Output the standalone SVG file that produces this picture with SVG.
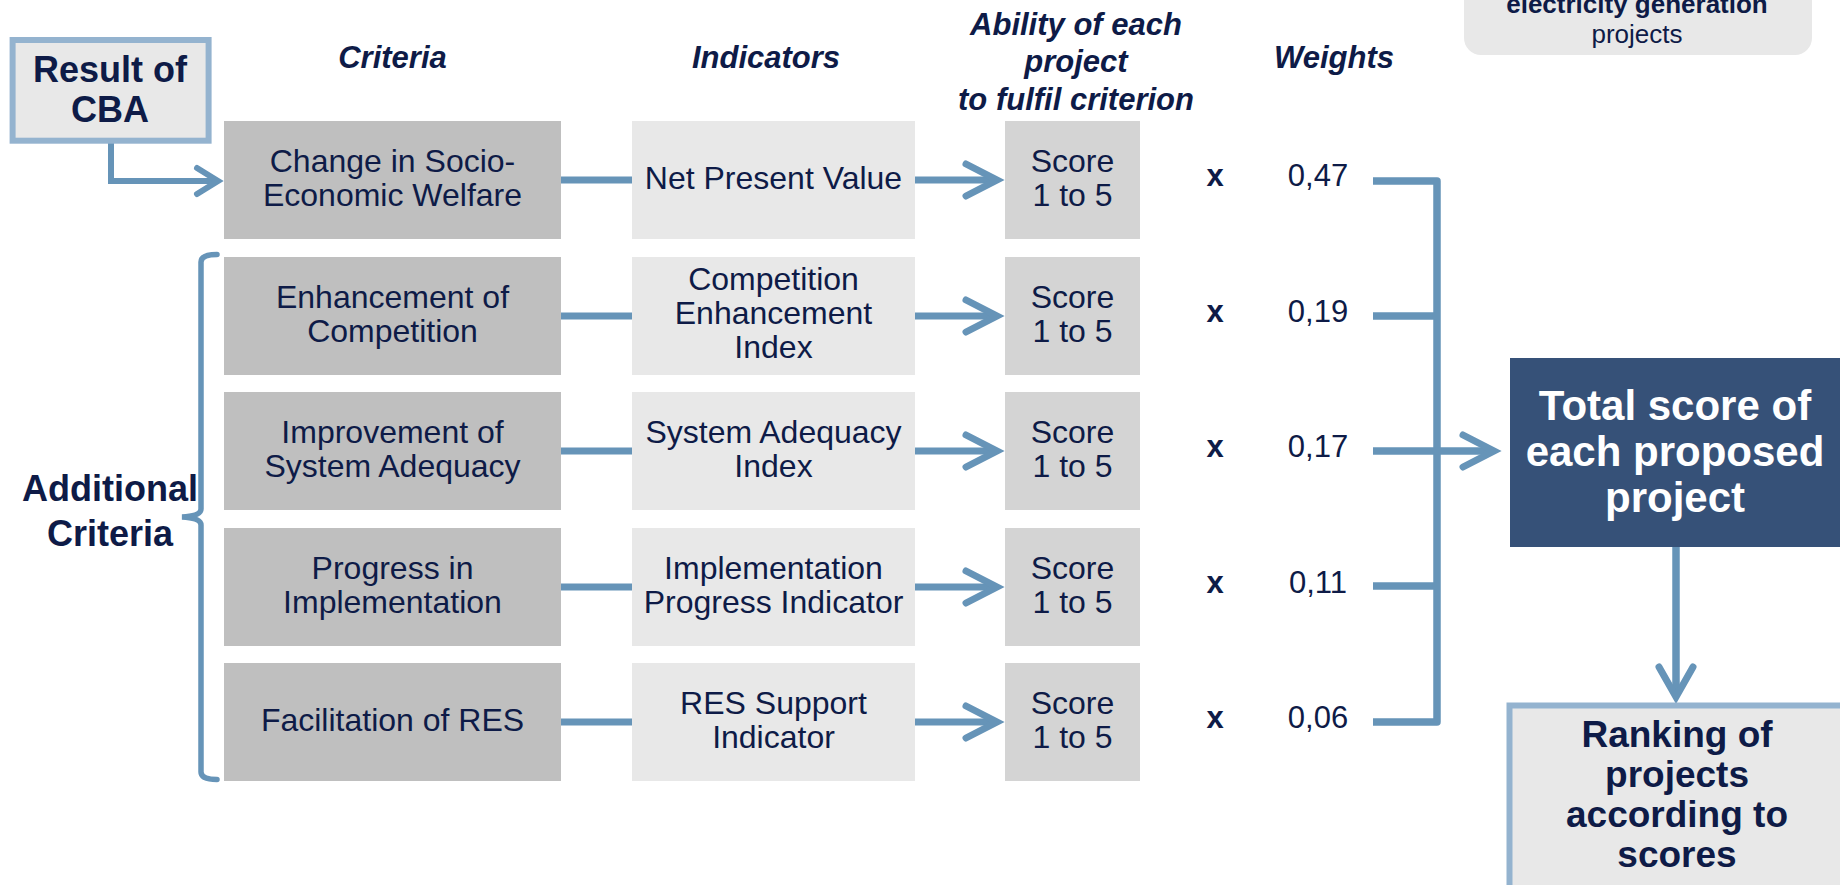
<svg xmlns="http://www.w3.org/2000/svg" width="1840" height="885" viewBox="0 0 1840 885">
  <defs>
    <style>
      text { font-family: "Liberation Sans", Arial, sans-serif; fill: #0e1b47; text-anchor: middle; }
      .hdr { font-size: 31px; font-weight: bold; font-style: italic; }
      .box { font-size: 32px; }
      .big { font-size: 36px; font-weight: bold; }
      .mul { font-size: 31px; font-weight: bold; }
      .wt { font-size: 31px; }
      .crit { fill: #bfbfbf; }
      .ind { fill: #e8e8e8; }
      .score { fill: #d4d4d4; }
      .line { fill: none; stroke: #6694b8; stroke-width: 7; }
      .thin { fill: none; stroke: #6694b8; stroke-width: 6; }
      .head { fill: none; stroke: #6694b8; stroke-width: 7; stroke-linecap: round; stroke-linejoin: miter; }
    </style>
  </defs>

  <rect width="1840" height="885" fill="#ffffff"/>

  <!-- note box at the top right, clipped by the page edge -->
  <g id="note">
    <rect x="1464" y="-40" width="348" height="95" rx="17" fill="#e8e8e8"/>
    <text x="1637" y="12.5" style="font-size:26px;font-weight:bold">electricity generation</text>
    <text x="1637" y="43" style="font-size:26px">projects</text>
  </g>

  <!-- column headers -->
  <g id="headers">
    <text class="hdr" x="392.5" y="68">Criteria</text>
    <text class="hdr" x="766" y="68">Indicators</text>
    <text class="hdr" x="1076" y="35">Ability of each</text>
    <text class="hdr" x="1076" y="72">project</text>
    <text class="hdr" x="1076" y="110">to fulfil criterion</text>
    <text class="hdr" x="1334" y="68">Weights</text>
  </g>

  <!-- connectors -->
  <g id="connectors">
    <!-- CBA result into first criterion -->
    <path class="thin" d="M111,143 V181 H216"/>
    <path class="head" style="stroke-width:6" d="M197,168 L218,181 L197,194"/>

    <!-- criterion to indicator -->
    <path class="line" d="M561,180 H632"/>
    <path class="line" d="M561,316 H632"/>
    <path class="line" d="M561,451 H632"/>
    <path class="line" d="M561,587 H632"/>
    <path class="line" d="M561,722 H632"/>

    <!-- indicator to score -->
    <path class="line" d="M915,180 H995"/>
    <path class="head" d="M966,164 L997,180 L966,196"/>
    <path class="line" d="M915,316 H995"/>
    <path class="head" d="M966,300 L997,316 L966,332"/>
    <path class="line" d="M915,451 H995"/>
    <path class="head" d="M966,435 L997,451 L966,467"/>
    <path class="line" d="M915,587 H995"/>
    <path class="head" d="M966,571 L997,587 L966,603"/>
    <path class="line" d="M915,722 H995"/>
    <path class="head" d="M966,706 L997,722 L966,738"/>

    <!-- weights collected into the total -->
    <path class="line" style="stroke-width:7.5;stroke-linejoin:round" d="M1373,181 H1437 V722 H1373"/>
    <path class="line" style="stroke-width:7.5" d="M1373,316 H1437"/>
    <path class="line" style="stroke-width:7.5" d="M1373,451 H1492"/>
    <path class="line" style="stroke-width:7.5" d="M1373,586 H1437"/>
    <path class="head" d="M1463,435 L1494,451 L1463,467"/>

    <!-- total to ranking -->
    <path class="line" style="stroke-width:7.5" d="M1676,547 V695"/>
    <path class="head" d="M1659,667 L1676,697 L1693,667"/>

    <!-- brace grouping the additional criteria -->
    <path fill="none" stroke="#6694b8" stroke-width="5.5" stroke-linecap="round" d="M217,254.5 Q201,254.5 201,262 L201,509 Q201,516 182,517 Q201,518 201,525 L201,772 Q201,779.5 217,779.5"/>
  </g>

  <!-- CBA input -->
  <g id="cba">
    <rect x="12.6" y="40" width="196" height="100.7" fill="#e8e8e8" stroke="#94b3cf" stroke-width="6"/>
    <text class="big" x="110" y="82">Result of</text>
    <text class="big" x="110" y="122">CBA</text>
  </g>

  <!-- additional criteria label -->
  <g id="additional">
    <text class="big" x="110" y="501">Additional</text>
    <text class="big" x="110" y="546">Criteria</text>
  </g>

  <!-- row 1 -->
  <g id="crit-1">
    <rect class="crit" x="224" y="121" width="337" height="118"/>
    <text class="box" x="392.5" y="172">Change in Socio-</text>
    <text class="box" x="392.5" y="206">Economic Welfare</text>
  </g>
  <g id="ind-1">
    <rect class="ind" x="632" y="121" width="283" height="118"/>
    <text class="box" x="773.5" y="189">Net Present Value</text>
  </g>
  <g id="score-1">
    <rect class="score" x="1005" y="121" width="135" height="118"/>
    <text class="box" x="1072.5" y="172">Score</text>
    <text class="box" x="1072.5" y="206">1 to 5</text>
  </g>
  <g id="weight-1">
    <text class="mul" x="1215" y="186">x</text>
    <text class="wt" x="1318" y="186">0,47</text>
  </g>

  <!-- row 2 -->
  <g id="crit-2">
    <rect class="crit" x="224" y="257" width="337" height="118"/>
    <text class="box" x="392.5" y="308">Enhancement of</text>
    <text class="box" x="392.5" y="342">Competition</text>
  </g>
  <g id="ind-2">
    <rect class="ind" x="632" y="257" width="283" height="118"/>
    <text class="box" x="773.5" y="290">Competition</text>
    <text class="box" x="773.5" y="324">Enhancement</text>
    <text class="box" x="773.5" y="358">Index</text>
  </g>
  <g id="score-2">
    <rect class="score" x="1005" y="257" width="135" height="118"/>
    <text class="box" x="1072.5" y="308">Score</text>
    <text class="box" x="1072.5" y="342">1 to 5</text>
  </g>
  <g id="weight-2">
    <text class="mul" x="1215" y="322">x</text>
    <text class="wt" x="1318" y="322">0,19</text>
  </g>

  <!-- row 3 -->
  <g id="crit-3">
    <rect class="crit" x="224" y="392" width="337" height="118"/>
    <text class="box" x="392.5" y="443">Improvement of</text>
    <text class="box" x="392.5" y="477">System Adequacy</text>
  </g>
  <g id="ind-3">
    <rect class="ind" x="632" y="392" width="283" height="118"/>
    <text class="box" x="773.5" y="443">System Adequacy</text>
    <text class="box" x="773.5" y="477">Index</text>
  </g>
  <g id="score-3">
    <rect class="score" x="1005" y="392" width="135" height="118"/>
    <text class="box" x="1072.5" y="443">Score</text>
    <text class="box" x="1072.5" y="477">1 to 5</text>
  </g>
  <g id="weight-3">
    <text class="mul" x="1215" y="457">x</text>
    <text class="wt" x="1318" y="457">0,17</text>
  </g>

  <!-- row 4 -->
  <g id="crit-4">
    <rect class="crit" x="224" y="528" width="337" height="118"/>
    <text class="box" x="392.5" y="579">Progress in</text>
    <text class="box" x="392.5" y="613">Implementation</text>
  </g>
  <g id="ind-4">
    <rect class="ind" x="632" y="528" width="283" height="118"/>
    <text class="box" x="773.5" y="579">Implementation</text>
    <text class="box" x="773.5" y="613">Progress Indicator</text>
  </g>
  <g id="score-4">
    <rect class="score" x="1005" y="528" width="135" height="118"/>
    <text class="box" x="1072.5" y="579">Score</text>
    <text class="box" x="1072.5" y="613">1 to 5</text>
  </g>
  <g id="weight-4">
    <text class="mul" x="1215" y="593">x</text>
    <text class="wt" x="1318" y="593">0,11</text>
  </g>

  <!-- row 5 -->
  <g id="crit-5">
    <rect class="crit" x="224" y="663" width="337" height="118"/>
    <text class="box" x="392.5" y="731">Facilitation of RES</text>
  </g>
  <g id="ind-5">
    <rect class="ind" x="632" y="663" width="283" height="118"/>
    <text class="box" x="773.5" y="714">RES Support</text>
    <text class="box" x="773.5" y="748">Indicator</text>
  </g>
  <g id="score-5">
    <rect class="score" x="1005" y="663" width="135" height="118"/>
    <text class="box" x="1072.5" y="714">Score</text>
    <text class="box" x="1072.5" y="748">1 to 5</text>
  </g>
  <g id="weight-5">
    <text class="mul" x="1215" y="728">x</text>
    <text class="wt" x="1318" y="728">0,06</text>
  </g>

  <!-- total score -->
  <g id="total">
    <rect x="1510" y="358" width="340" height="189" fill="#365178"/>
    <text x="1675" y="420" style="font-size:42px;font-weight:bold;fill:#ffffff">Total score of</text>
    <text x="1675" y="466" style="font-size:42px;font-weight:bold;fill:#ffffff">each proposed</text>
    <text x="1675" y="512" style="font-size:42px;font-weight:bold;fill:#ffffff">project</text>
  </g>

  <!-- ranking -->
  <g id="ranking">
    <rect x="1509.5" y="705.5" width="400" height="300" fill="#e8e8e8" stroke="#94b3cf" stroke-width="6"/>
    <text x="1677" y="747" style="font-size:37px;font-weight:bold">Ranking of</text>
    <text x="1677" y="787" style="font-size:37px;font-weight:bold">projects</text>
    <text x="1677" y="827" style="font-size:37px;font-weight:bold">according to</text>
    <text x="1677" y="867" style="font-size:37px;font-weight:bold">scores</text>
  </g>
</svg>
